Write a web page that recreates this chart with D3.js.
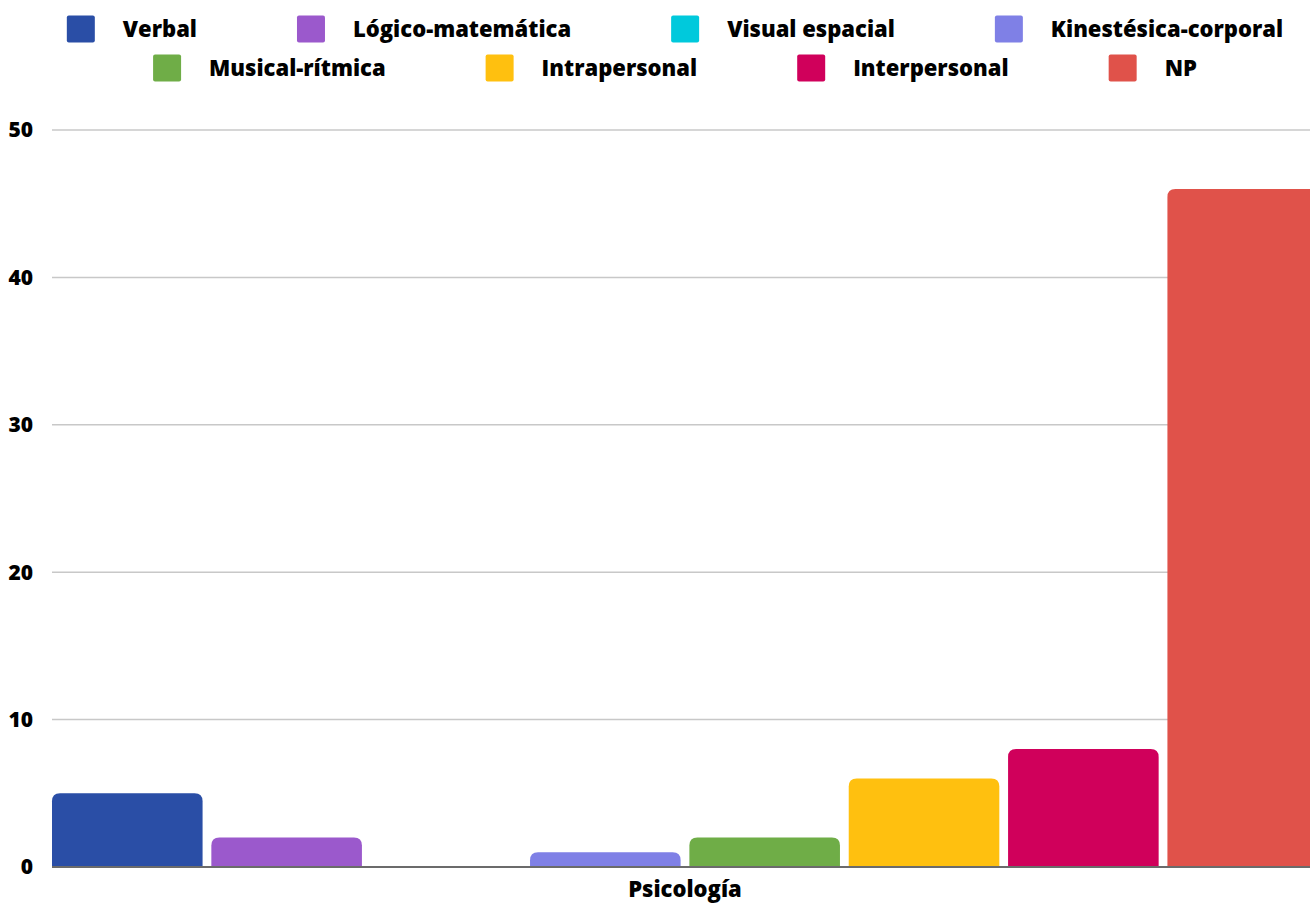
<!DOCTYPE html>
<html><head><meta charset="utf-8">
<script src="https://cdn.jsdelivr.net/npm/d3@7"></script>
<style>body{margin:0;background:#fff;overflow:hidden}svg{display:block;font-family:"Open Sans",sans-serif;font-weight:800}</style>
</head><body><svg id="c" width="1310" height="903"></svg>
<script>
const categories = ["Psicología"];
const seriesNames = ["Verbal","Lógico-matemática","Visual espacial","Kinestésica-corporal","Musical-rítmica","Intrapersonal","Interpersonal","NP"];
const seriesValues = [5,2,0,1,2,6,8,46];
const seriesColors = ["#2a4ea6","#9b59cc","#00c9dc","#7f80e6","#6fad47","#ffc00f","#d0005b","#e0524a"];
const yTicks = [0,10,20,30,40,50];

(function(){
const svg = d3.select("#c");
const pLeft = 52, pRight = 1318, pTop = 130, pBottom = 867;
const y = d3.scaleLinear().domain([0,50]).range([pBottom, pTop]);
const x0 = d3.scaleBand().domain(categories).range([pLeft, pRight]).paddingInner(0).paddingOuter(0);
const x1 = d3.scaleBand().domain(seriesNames).range([0, x0.bandwidth()]).paddingInner(0.055).paddingOuter(0);

svg.append("g").selectAll("line").data(yTicks.filter(d=>d>0)).join("line")
  .attr("x1", pLeft).attr("x2", 1310).attr("y1", d=>y(d)).attr("y2", d=>y(d))
  .attr("stroke", "#c8c8c8").attr("stroke-width", 1.5);

svg.append("g").selectAll("text").data(yTicks).join("text")
  .attr("x", 33).attr("y", d=>y(d)).attr("dy","0.35em").attr("text-anchor","end")
  .attr("font-size", 21).attr("fill","#000").text(d=>d);

const r = 8;
function barPath(x, yTop, w, yBase){
  const h = yBase - yTop;
  if (h <= 0) return "";
  const rr = Math.min(r, h, w/2);
  return `M${x},${yBase}V${yTop+rr}Q${x},${yTop} ${x+rr},${yTop}H${x+w-rr}Q${x+w},${yTop} ${x+w},${yTop+rr}V${yBase}Z`;
}
const g = svg.append("g");
categories.forEach(cat => {
  g.selectAll("path.b").data(seriesNames.map((s,i)=>({s, v: seriesValues[i], c: seriesColors[i]}))).join("path")
    .attr("class","b")
    .attr("d", d => barPath(x0(cat)+x1(d.s), y(d.v), x1.bandwidth(), y(0)))
    .attr("fill", d=>d.c);
});

svg.append("line").attr("x1", pLeft).attr("x2", 1310).attr("y1", y(0)).attr("y2", y(0))
  .attr("stroke","#6b6b6b").attr("stroke-width",2);

svg.append("g").selectAll("text").data(categories).join("text")
  .attr("x", d=>x0(d)+x0.bandwidth()/2).attr("y", 897)
  .attr("text-anchor","middle").attr("font-size",22).attr("fill","#000").text(d=>d);

const rows = [[0,1,2,3],[4,5,6,7]];
const rowY = [29, 68];
const fs = 22, gapSw = 56, gapItem = 100, center = 675;
const measure = svg.append("text").attr("font-size", fs).attr("opacity",0);
function tw(t){ measure.text(t); return measure.node().getComputedTextLength(); }
rows.forEach((row, ri) => {
  const widths = row.map(i => gapSw + tw(seriesNames[i]));
  const total = d3.sum(widths) + gapItem*(row.length-1);
  let cx = center - total/2;
  row.forEach((i, k) => {
    const lg = svg.append("g");
    lg.append("rect").attr("x", cx).attr("y", rowY[ri]-13.5).attr("width", 28).attr("height", 27)
      .attr("rx", 2).attr("fill", seriesColors[i]);
    lg.append("text").attr("x", cx+gapSw).attr("y", rowY[ri]).attr("dy","0.35em")
      .attr("font-size", fs).attr("fill","#000").text(seriesNames[i]);
    cx += widths[k] + gapItem;
  });
});
measure.remove();
})();
</script></body></html>
